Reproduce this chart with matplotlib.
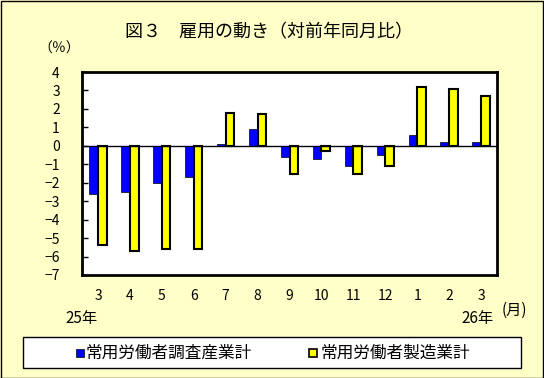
import numpy as np
import matplotlib.pyplot as plt
from matplotlib.patches import Rectangle

plt.rcParams['font.family'] = ['Noto Sans CJK JP', 'DejaVu Sans']

months = ['3', '4', '5', '6', '7', '8', '9', '10', '11', '12', '1', '2', '3']
survey_total = [-2.6, -2.5, -2.0, -1.7, 0.1, 0.9, -0.6, -0.7, -1.1, -0.5, 0.6, 0.2, 0.2]
manufacturing = [-5.4, -5.7, -5.6, -5.6, 1.8, 1.7, -1.5, -0.3, -1.5, -1.1, 3.2, 3.1, 2.7]
series_names = ['常用労働者調査産業計', '常用労働者製造業計']

bg = '#FFFFC8'
fig = plt.figure(figsize=(5.44, 3.78), dpi=100, facecolor=bg)
fig.patches.append(Rectangle((0.001, 0.001), 0.997, 0.997, transform=fig.transFigure,
                             fill=False, edgecolor='black', linewidth=1))

# plot area in pixel coords: x 82..497, y 72..275
ax = fig.add_axes([82/544, 1 - 275/378, (497-82)/544, (275-72)/378])
ax.set_facecolor('white')

x = np.arange(len(months))
w = 0.27
ax.bar(x - w/2, survey_total, w, color='#0000FF', edgecolor='black', linewidth=0.5)
ax.bar(x + w/2, manufacturing, w, color='#FFFF00', edgecolor='black', linewidth=1.5)
ax.axhline(0, color='black', linewidth=1)

ax.set_xlim(-0.5, len(months) - 0.5)
ax.set_ylim(-7, 4)
ax.set_yticks(range(-7, 5))
ax.set_yticklabels([str(v).replace('-', '−') for v in range(-7, 5)], fontsize=10)
ax.tick_params(axis='y', direction='in', length=4, width=1, pad=16)
ax.set_xticks(x)
ax.set_xticklabels(months, fontsize=10)
ax.tick_params(axis='x', length=0, pad=10)
for s in ax.spines.values():
    s.set_linewidth(2)

fig.text(269/544, 1 - 32/378, '図３　雇用の動き（対前年同月比）', ha='center', va='center', fontsize=13)
fig.text(59/544, 1 - 49/378, '（％）', ha='center', va='center', fontsize=10)
fig.text(82/544, 1 - 319/378, '25年', ha='center', va='center', fontsize=11)
fig.text(477/544, 1 - 319/378, '26年', ha='center', va='center', fontsize=11)
fig.text(514/544, 1 - 310/378, '(月)', ha='center', va='center', fontsize=11)

# legend box
fig.patches.append(Rectangle((23/544, 1 - 368/378), 498/544, 31/378, transform=fig.transFigure,
                             facecolor='white', edgecolor='black', linewidth=1))
fig.patches.append(Rectangle((76/544, 1 - 357/378), 8/544, 8/378, transform=fig.transFigure,
                             facecolor='#0000FF', edgecolor='black', linewidth=0.5))
fig.text(86/544, 1 - 353/378, series_names[0], ha='left', va='center', fontsize=12)
fig.patches.append(Rectangle((309/544, 1 - 357/378), 8/544, 8/378, transform=fig.transFigure,
                             facecolor='#FFFF00', edgecolor='black', linewidth=1.2))
fig.text(321/544, 1 - 353/378, series_names[1], ha='left', va='center', fontsize=12)

fig.savefig('out.png', dpi=100, facecolor=bg)
